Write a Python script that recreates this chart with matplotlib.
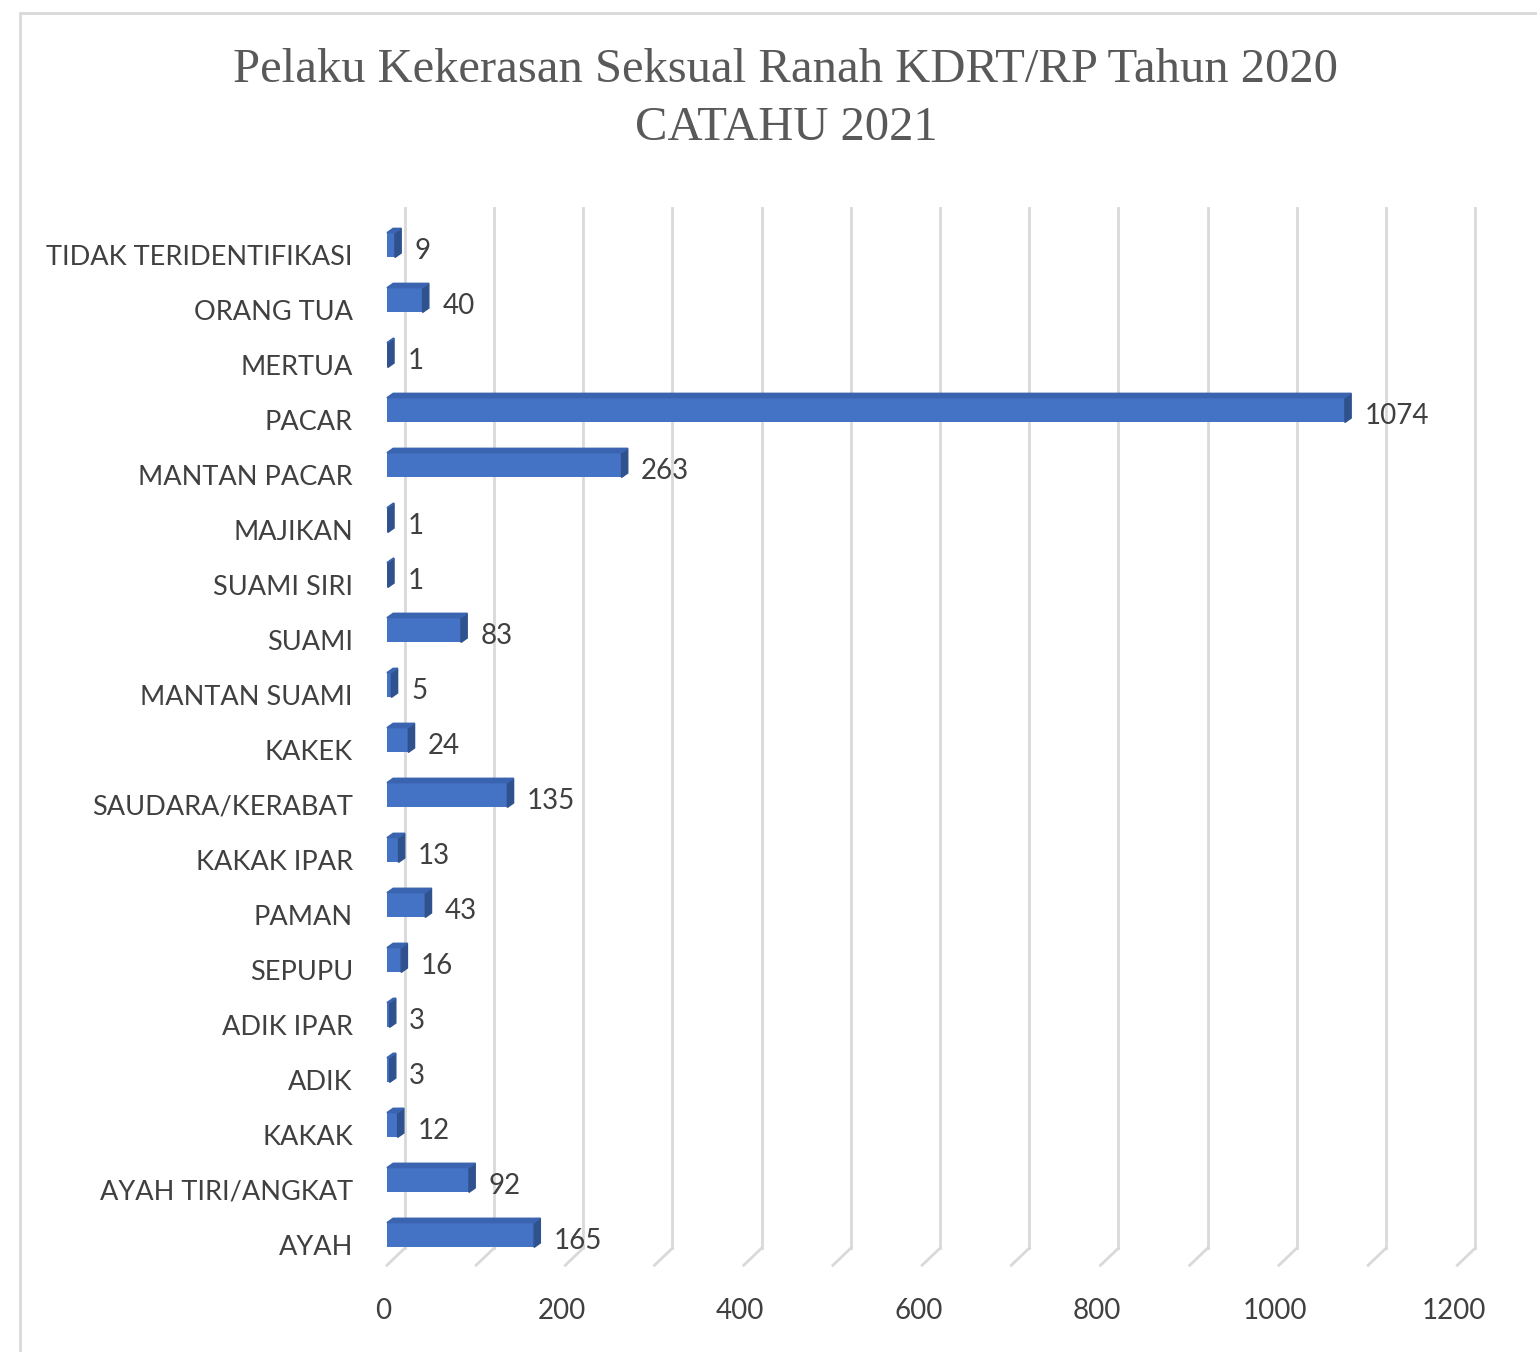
import matplotlib
matplotlib.use("Agg")
import matplotlib.pyplot as plt
from matplotlib.patches import Polygon, Rectangle

# data (top to bottom as in the chart)
categories = ["TIDAK TERIDENTIFIKASI", "ORANG TUA", "MERTUA", "PACAR", "MANTAN PACAR",
              "MAJIKAN", "SUAMI SIRI", "SUAMI", "MANTAN SUAMI", "KAKEK",
              "SAUDARA/KERABAT", "KAKAK IPAR", "PAMAN", "SEPUPU", "ADIK IPAR",
              "ADIK", "KAKAK", "AYAH TIRI/ANGKAT", "AYAH"]
values = [9, 40, 1, 1074, 263, 1, 1, 83, 5, 24, 135, 13, 43, 16, 3, 3, 12, 92, 165]
xticks = [0, 200, 400, 600, 800, 1000, 1200]
grid_ticks = list(range(0, 1300, 100))

title = "Pelaku Kekerasan Seksual Ranah KDRT/RP Tahun 2020\nCATAHU 2021"

W, H = 1537, 1352
fig = plt.figure(figsize=(W / 100, H / 100), dpi=100)

# chart border
fig.patches.append(Rectangle((20 / W, -0.05), 1.1, 1 - 13 / H + 0.05, transform=fig.transFigure,
                             fill=False, edgecolor="#D9D9D9", lw=2))

ax = fig.add_axes([378 / W, 1 - 1290 / H, 1120 / W, 1090 / H])
ax.set_xlim(-10, 1245.6)
ax.set_ylim(19.0, -0.82)
for s in ax.spines.values():
    s.set_visible(False)

bar_col = "#4472C4"
side_col = "#2F528F"
depth = 20      # 3d depth offset in data units (x)

# back wall gridlines + floor
for t in grid_ticks:
    ax.plot([t + depth, t + depth], [-0.67, 18.24], color="#D9D9D9", lw=2, zorder=0)
    ax.plot([t + depth, t], [18.24, 18.55], color="#D9D9D9", lw=2, zorder=0)

h = 0.45
ypos = list(range(len(categories)))
ax.barh(ypos, values, height=h, color=bar_col, zorder=2)
for y, v in zip(ypos, values):
    sd = 7
    top = y - h / 2
    bot = y + h / 2
    ax.add_patch(Polygon([(v, bot), (v, top), (v + sd, top - 0.08), (v + sd, bot - 0.08)],
                         closed=True, color=side_col, zorder=3))
    ax.add_patch(Polygon([(0, top), (v, top), (v + sd, top - 0.08), (sd, top - 0.08)],
                         closed=True, color="#3A64B0", zorder=3))
    ax.text(v + 22, y + 0.1, str(v), va="center", ha="left", fontsize=20,
            family="Lato", color="#404040")

ax.set_yticks([y + 0.18 for y in ypos])
ax.set_yticklabels(categories, fontsize=19.5, family="Lato", color="#404040")
ax.set_xticks([t - 4 for t in xticks])
ax.set_xticklabels([str(t) for t in xticks], fontsize=20, family="Lato", color="#404040")
ax.tick_params(axis="y", length=0, pad=18)
ax.tick_params(axis="x", length=0, pad=6)

fig.text(786 / W, 1 - 99 / H, title, ha="center", va="center", fontsize=35,
         family="Liberation Serif", color="#595959", linespacing=1.4)

fig.savefig("out.png", dpi=100)
